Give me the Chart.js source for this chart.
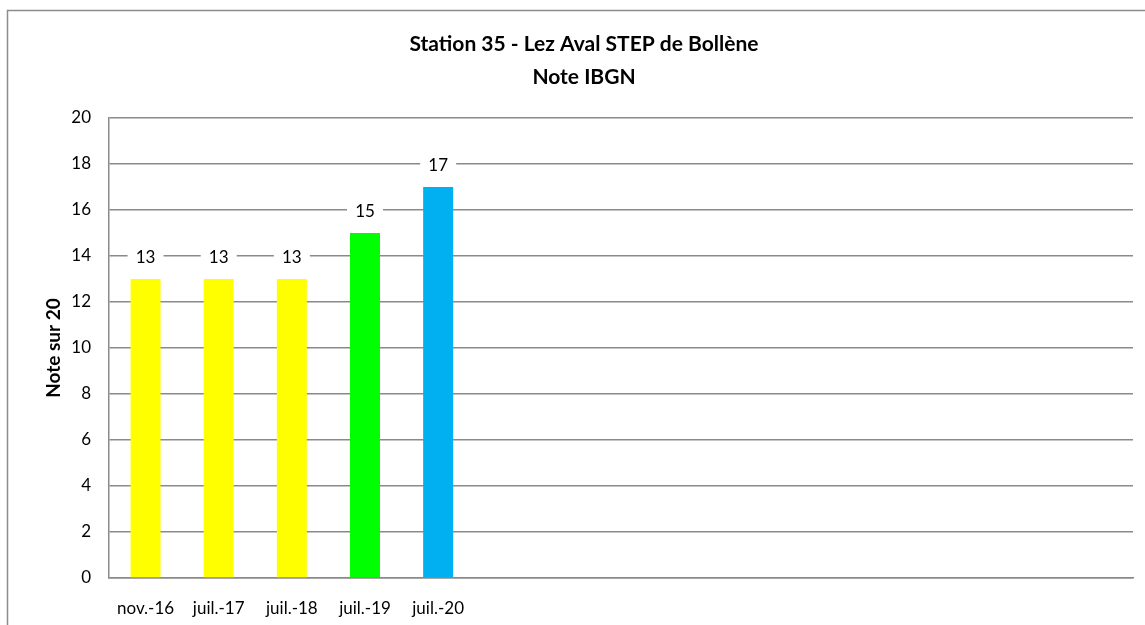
<!DOCTYPE html>
<html>
<head>
<meta charset="utf-8">
<script src="https://cdn.jsdelivr.net/npm/chart.js@4/dist/chart.umd.min.js"></script>
<style>
  body { margin: 0; background: #fff; }
  #wrap { width: 1145px; height: 625px; }
</style>
</head>
<body>
<div id="wrap"><canvas id="ibgnChart" width="1145" height="625"></canvas></div>
<script>
// IBGN scores per sampling campaign
const campaigns = ['nov.-16', 'juil.-17', 'juil.-18', 'juil.-19', 'juil.-20'];
const scores = [13, 13, 13, 15, 17];
const barColors = ['#FFFF00', '#FFFF00', '#FFFF00', '#00FF00', '#00B0F0'];
const yTicks = [0, 2, 4, 6, 8, 10, 12, 14, 16, 18, 20];
// room left on the axis for future campaigns
const emptySlots = 9;

const chartTitle = ['Station 35 - Lez Aval STEP de Bollène', 'Note IBGN'];
const yTitle = 'Note sur 20';

const FONT = 'Lato, "Open Sans", sans-serif';
const GRID = '#8a8a8a';

const labels = campaigns.concat(new Array(emptySlots).fill(''));

// frame, titles and value labels drawn straight on the canvas
const decor = {
  id: 'decor',
  beforeDraw(chart) {
    const ctx = chart.ctx;
    ctx.save();
    ctx.strokeStyle = '#8c8c8c';
    ctx.lineWidth = 1.5;
    ctx.beginPath();
    ctx.moveTo(7.5, 626);
    ctx.lineTo(7.5, 10.5);
    ctx.lineTo(1146, 10.5);
    ctx.stroke();

    ctx.fillStyle = '#000';
    ctx.textAlign = 'center';
    ctx.textBaseline = 'alphabetic';
    ctx.font = 'bold 21px ' + FONT;
    ctx.fillText(chartTitle[0], 584, 51);
    ctx.fillText(chartTitle[1], 584, 84);

    ctx.translate(60, 348);
    ctx.rotate(-Math.PI / 2);
    ctx.font = 'bold 19px ' + FONT;
    ctx.fillText(yTitle, 0, 0);
    ctx.restore();
  },
  afterDatasetsDraw(chart) {
    const ctx = chart.ctx;
    const meta = chart.getDatasetMeta(0);
    ctx.save();
    ctx.font = '17px ' + FONT;
    ctx.textAlign = 'center';
    ctx.textBaseline = 'middle';
    meta.data.forEach((bar, i) => {
      const v = scores[i];
      if (v == null) return;
      const y = bar.y - 22;
      ctx.fillStyle = '#fff';
      ctx.fillRect(bar.x - 18, y - 10, 36, 20);
      ctx.fillStyle = '#000';
      ctx.fillText(String(v), bar.x, y + 1);
    });
    ctx.restore();
  }
};

new Chart(document.getElementById('ibgnChart'), {
  type: 'bar',
  data: {
    labels: labels,
    datasets: [{
      data: scores,
      backgroundColor: barColors,
      borderWidth: 0,
      categoryPercentage: 1,
      barPercentage: 0.41
    }]
  },
  options: {
    responsive: false,
    animation: false,
    layout: { padding: { top: 118, right: 12, left: 0, bottom: 0 } },
    plugins: {
      legend: { display: false },
      tooltip: { enabled: false },
      title: { display: false }
    },
    scales: {
      x: {
        grid: { display: false, drawTicks: false },
        border: { color: GRID, width: 1.5 },
        ticks: {
          color: '#000',
          font: { family: FONT, size: 17 },
          padding: 20,
          maxRotation: 0,
          autoSkip: false
        },
        afterFit(scale) {
          scale.height = 47;
          scale.paddingRight = 12;
        }
      },
      y: {
        min: 0,
        max: 20,
        afterBuildTicks(scale) { scale.ticks = yTicks.map(v => ({ value: v })); },
        grid: { color: GRID, lineWidth: 1.5, drawTicks: false },
        border: { color: GRID, width: 1.5 },
        ticks: {
          color: '#000',
          font: { family: FONT, size: 17 },
          padding: 18
        },
        afterFit(scale) { scale.width = 109; }
      }
    }
  },
  plugins: [decor]
});
</script>
</body>
</html>
